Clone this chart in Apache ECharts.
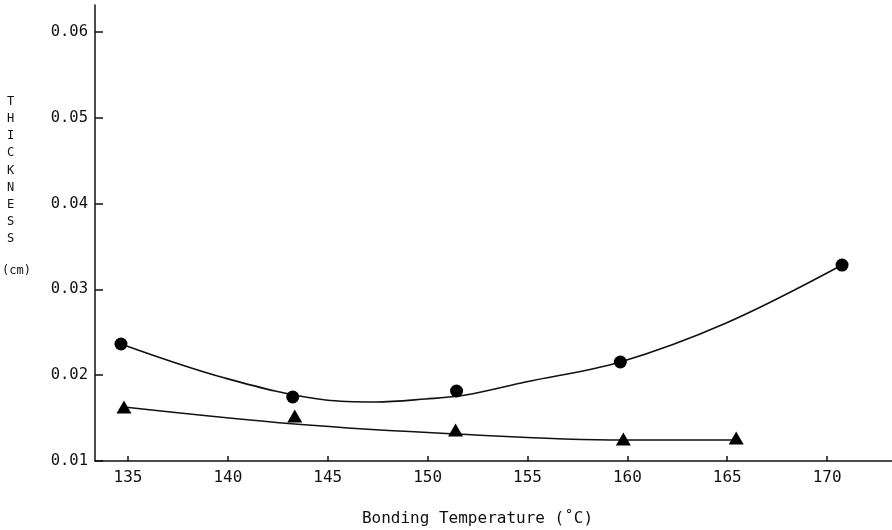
<!DOCTYPE html>
<html><head><meta charset="utf-8">
<script src="https://cdn.jsdelivr.net/npm/echarts@6/dist/echarts.min.js"></script>
<style>html,body{margin:0;padding:0;background:#fff}#c{width:892px;height:530px}</style>
</head><body><div id="c"></div>
<script>
const xTicks = [135, 140, 145, 150, 155, 160, 165, 170];
const yTicks = [0.01, 0.02, 0.03, 0.04, 0.05, 0.06];
const circleTemp = [134.65, 143.25, 151.45, 159.65, 170.75];
const circleThick = [0.02364, 0.01746, 0.01816, 0.02154, 0.03284];
const triTemp = [134.8, 143.35, 151.4, 159.8, 165.45];
const triThick = [0.01629, 0.01524, 0.01361, 0.01256, 0.01268];
const circleCurveTemp = [134.65, 139.85, 144.9, 147.4, 149.9, 151.9, 154.9, 159.65, 164.95, 170.75];
const circleCurveThick = [0.02364, 0.01967, 0.01711, 0.01688, 0.01723, 0.01769, 0.01921, 0.02154, 0.02608, 0.03284];
const triCurveTemp = [134.8, 143.35, 151.4, 159.8, 165.45];
const triCurveThick = [0.01629, 0.01431, 0.01315, 0.01245, 0.01245];

const zip = (a, b) => a.map((v, i) => [v, b[i]]);
const font = '"DejaVu Sans Mono", "Liberation Mono", monospace';
const chart = echarts.init(document.getElementById('c'), null, {renderer: 'canvas'});
chart.setOption({
  animation: false,
  backgroundColor: '#fff',
  grid: {left: 95, right: 0, top: 5, bottom: 69, outerBoundsMode: 'none', containLabel: false},
  xAxis: {
    type: 'value', min: 133.35, max: 173.25,
    name: 'Bonding Temperature (\u02daC)', nameLocation: 'middle', nameGap: 50,
    nameTextStyle: {fontFamily: font, fontSize: 16, color: '#111', padding: [0, 32, 0, 0]},
    axisLine: {lineStyle: {color: '#111', width: 1.5}},
    axisTick: {inside: true, length: 5, customValues: xTicks, lineStyle: {color: '#111', width: 1.5}},
    axisLabel: {customValues: xTicks, fontFamily: font, fontSize: 16, color: '#111', margin: 9},
    splitLine: {show: false}
  },
  yAxis: {
    type: 'value', min: 0.01, max: 0.06315,
    axisLine: {show: true, lineStyle: {color: '#111', width: 1.5}},
    axisTick: {show: true, inside: true, length: 8, customValues: yTicks, lineStyle: {color: '#111', width: 1.5}},
    axisLabel: {customValues: yTicks, fontFamily: font, fontSize: 15.5, color: '#111', margin: 7,
      formatter: v => v.toFixed(2)},
    splitLine: {show: false}
  },
  graphic: [{
    type: 'text', left: 7, top: 93,
    style: {text: 'T\nH\nI\nC\nK\nN\nE\nS\nS', font: '12px ' + font, lineHeight: 17.2, fill: '#111', align: 'center'}
  }, {
    type: 'text', left: 2, top: 265,
    style: {text: '(cm)', font: '12px ' + font, fill: '#111'}
  }],
  series: [
    {type: 'line', data: zip(circleCurveTemp, circleCurveThick), smooth: 0.35, showSymbol: false,
      lineStyle: {color: '#111', width: 1.6}, z: 2},
    {type: 'line', data: zip(triCurveTemp, triCurveThick), smooth: 0.35, showSymbol: false,
      lineStyle: {color: '#111', width: 1.6}, z: 2},
    {type: 'scatter', data: zip(circleTemp, circleThick), symbol: 'circle', symbolSize: 13,
      itemStyle: {color: '#000', opacity: 1}, z: 3},
    {type: 'scatter', data: zip(triTemp, triThick), symbol: 'triangle', symbolSize: [15, 13],
      itemStyle: {color: '#000', opacity: 1}, z: 3}
  ]
});
</script></body></html>
